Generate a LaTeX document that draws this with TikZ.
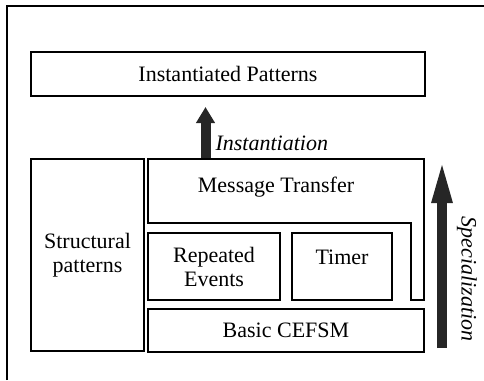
\documentclass[tikz,border=0pt]{standalone}
\usepackage{fontspec}
\setmainfont{Liberation Serif}
\usetikzlibrary{arrows.meta}
\begin{document}
\begin{tikzpicture}[x=1pt,y=-1pt,
  frame/.style={line width=1.2pt},
  boxnode/.style={draw,line width=1.2pt,inner sep=0pt,align=center,font=\fontsize{22}{24}\selectfont},
  lbl/.style={font=\fontsize{22}{24}\selectfont},
  bigarrow/.style={line width=10pt,draw=black!85,-{Triangle[length=16pt,width=18pt]}}]
\useasboundingbox (0,0) rectangle (484,380);
% outer frame (top and left)
\draw[frame] (7,380) -- (7,6) -- (484,6);
% boxes
\node[boxnode,minimum width=394pt,minimum height=44pt] (inst) at (228,74) {Instantiated Patterns};
\node[boxnode,minimum width=113pt,minimum height=192pt] (struct) at (87.5,255) {Structural\\patterns};
\node[boxnode,minimum width=132pt,minimum height=67pt] (rep) at (214,266.5) {Repeated\\Events};
\node[boxnode,minimum width=100pt,minimum height=67pt] (timer) at (342,266.5) {};
\node[lbl] (timerl) at (342,257) {Timer};
\node[boxnode,minimum width=276pt,minimum height=43pt] (basic) at (286,330.5) {Basic CEFSM};
% message transfer inverted L
\draw[frame] (148,159) -- (424,159) -- (424,300) -- (411,300) -- (411,223) -- (148,223) -- cycle;
\node[lbl] (msg) at (276,187) {Message Transfer};
% instantiation arrow
\coordinate (ia) at (205.5,158.4);
\coordinate (ib) at (205.5,107);
\draw[bigarrow] (ia) -- (ib);
\node[lbl,anchor=base west,font=\fontsize{22}{24}\selectfont\itshape] (instl) at (212,150) {Instantiation};
% specialization arrow
\coordinate (sa) at (442,348);
\coordinate (sb) at (442,157);
\draw[bigarrow,-{Triangle[length=46pt,width=18pt]}] (sa) -- (sb);
\node[lbl,rotate=-90,font=\fontsize{22}{24}\selectfont\itshape] (specl) at (467,279) {Specialization};
\end{tikzpicture}
\end{document}
